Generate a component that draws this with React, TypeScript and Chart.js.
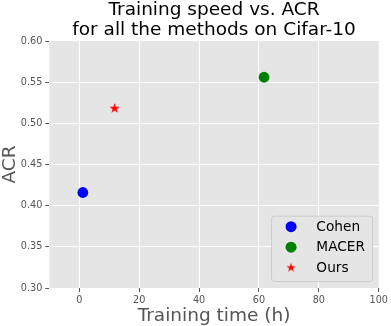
import { useEffect, useRef } from "react";
import { Chart, registerables } from "chart.js";

Chart.register(...registerables);

const methods = ["Cohen", "MACER", "Ours"];
const trainingHours = [1.2, 61.7, 11.8];
const acrValues = [0.416, 0.556, 0.518];
const colors = ["#0000FF", "#008000", "#FF0000"];
const markers = ["circle", "circle", "star"];
const xTicks = [0, 20, 40, 60, 80, 100];
const yTicks = [0.3, 0.35, 0.4, 0.45, 0.5, 0.55, 0.6];
const titleLines = ["Training speed vs. ACR", "for all the methods on Cifar-10"];
const xLabel = "Training time (h)";
const yLabel = "ACR";

const FONT = "'DejaVu Sans', sans-serif";

function makeStar(R: number, color: string): HTMLCanvasElement {
  const size = Math.ceil(2 * R + 2);
  const c = document.createElement("canvas");
  c.width = size;
  c.height = size;
  const ctx = c.getContext("2d")!;
  const cx = size / 2;
  const cy = size / 2;
  ctx.beginPath();
  for (let i = 0; i < 10; i++) {
    const r = i % 2 === 0 ? R : R * 0.381966;
    const a = -Math.PI / 2 + (i * Math.PI) / 5;
    const x = cx + r * Math.cos(a);
    const y = cy + r * Math.sin(a);
    if (i === 0) ctx.moveTo(x, y);
    else ctx.lineTo(x, y);
  }
  ctx.closePath();
  ctx.fillStyle = color;
  ctx.fill();
  return c;
}

export default function App() {
  const ref = useRef<HTMLCanvasElement | null>(null);

  useEffect(() => {
    if (!ref.current) return;

    const datasets = methods.map((m, i) => ({
      label: m,
      data: [{ x: trainingHours[i], y: acrValues[i] }],
      backgroundColor: colors[i],
      borderWidth: 0,
      pointRadius: 5.4,
      pointHoverRadius: 5.4,
      pointStyle: markers[i] === "star" ? makeStar(5.4, colors[i]) : "circle",
    }));

    const bgPlugin = {
      id: "bg",
      beforeDraw(chart: any) {
        const { ctx, chartArea: a } = chart;
        ctx.save();
        ctx.fillStyle = "#E5E5E5";
        ctx.fillRect(a.left, a.top, a.right - a.left, a.bottom - a.top);
        ctx.restore();
      },
    };

    const decoPlugin = {
      id: "deco",
      afterDraw(chart: any) {
        const { ctx, chartArea: a } = chart;
        const cx = (a.left + a.right) / 2;
        ctx.save();
        // title
        ctx.fillStyle = "#000";
        ctx.font = `18.5px ${FONT}`;
        ctx.textAlign = "center";
        ctx.textBaseline = "alphabetic";
        ctx.fillText(titleLines[0], cx, 15);
        ctx.fillText(titleLines[1], cx, 35);
        // x label
        ctx.fillStyle = "#555555";
        ctx.fillText(xLabel, cx, 321);
        // y label
        ctx.save();
        ctx.translate(15, (a.top + a.bottom) / 2);
        ctx.rotate(-Math.PI / 2);
        ctx.fillText(yLabel, 0, 0);
        ctx.restore();
        // legend
        const boxR = a.right - 6.7;
        const boxB = a.bottom - 7;
        const boxL = boxR - 101;
        const boxT = boxB - 65.3;
        ctx.beginPath();
        ctx.roundRect(boxL + 0.5, boxT + 0.5, boxR - boxL, boxB - boxT, 3);
        ctx.fillStyle = "#E5E5E5";
        ctx.fill();
        ctx.strokeStyle = "#CCCCCC";
        ctx.lineWidth = 1;
        ctx.stroke();
        ctx.font = `13.7px ${FONT}`;
        ctx.textAlign = "left";
        ctx.textBaseline = "middle";
        methods.forEach((m, i) => {
          const y = boxT + 11 + i * 20.5;
          const mx = boxL + 20;
          if (markers[i] === "star") {
            const s = makeStar(4.9, colors[i]);
            ctx.drawImage(s, mx - s.width / 2, y - s.height / 2);
          } else {
            ctx.beginPath();
            ctx.arc(mx, y, 5.5, 0, Math.PI * 2);
            ctx.fillStyle = colors[i];
            ctx.fill();
          }
          ctx.fillStyle = "#000";
          ctx.fillText(m, boxL + 45.3, y + 0.5);
        });
        ctx.restore();
      },
    };

    const edgeTransparent = (edges: number[]) => (c: any) =>
      c.tick && edges.some((e) => Math.abs(c.tick.value - e) < 1e-9) ? "rgba(0,0,0,0)" : "#FFFFFF";

    const chart = new Chart(ref.current, {
      type: "scatter",
      data: { datasets },
      plugins: [bgPlugin, decoPlugin],
      options: {
        responsive: false,
        animation: false,
        events: [],
        layout: { padding: { top: 41, right: 9.3, left: 0, bottom: 0 } },
        plugins: {
          legend: { display: false },
          title: { display: false },
          tooltip: { enabled: false },
        },
        scales: {
          x: {
            type: "linear",
            min: -10,
            max: 100,
            afterBuildTicks: (s: any) => {
              s.ticks = xTicks.map((v) => ({ value: v }));
            },
            afterFit: (s: any) => {
              s.height = 38;
            },
            grid: {
              color: edgeTransparent([100]),
              lineWidth: 1,
              tickColor: "#555555",
              tickLength: 4,
              drawTicks: true,
            },
            border: { display: false },
            ticks: {
              color: "#555555",
              font: { family: FONT, size: 9.7 },
              padding: 3,
              maxRotation: 0,
              autoSkip: false,
              callback: (v: any) => String(v),
            },
          },
          y: {
            type: "linear",
            min: 0.3,
            max: 0.6,
            afterBuildTicks: (s: any) => {
              s.ticks = yTicks.map((v) => ({ value: v }));
            },
            afterFit: (s: any) => {
              s.width = 49.3;
            },
            grid: {
              color: edgeTransparent([0.3, 0.6]),
              lineWidth: 1,
              tickColor: "#555555",
              tickLength: 4,
              drawTicks: true,
            },
            border: { display: false },
            ticks: {
              color: "#555555",
              font: { family: FONT, size: 9.7 },
              padding: 3,
              autoSkip: false,
              callback: (v: any) => Number(v).toFixed(2),
            },
          },
        },
      } as any,
    });

    return () => chart.destroy();
  }, []);

  return (
    <div style={{ position: "absolute", left: 0, top: 0, width: 391, height: 326 }}>
      <canvas ref={ref} width={391} height={326} style={{ display: "block", width: 391, height: 326 }} />
    </div>
  );
}
